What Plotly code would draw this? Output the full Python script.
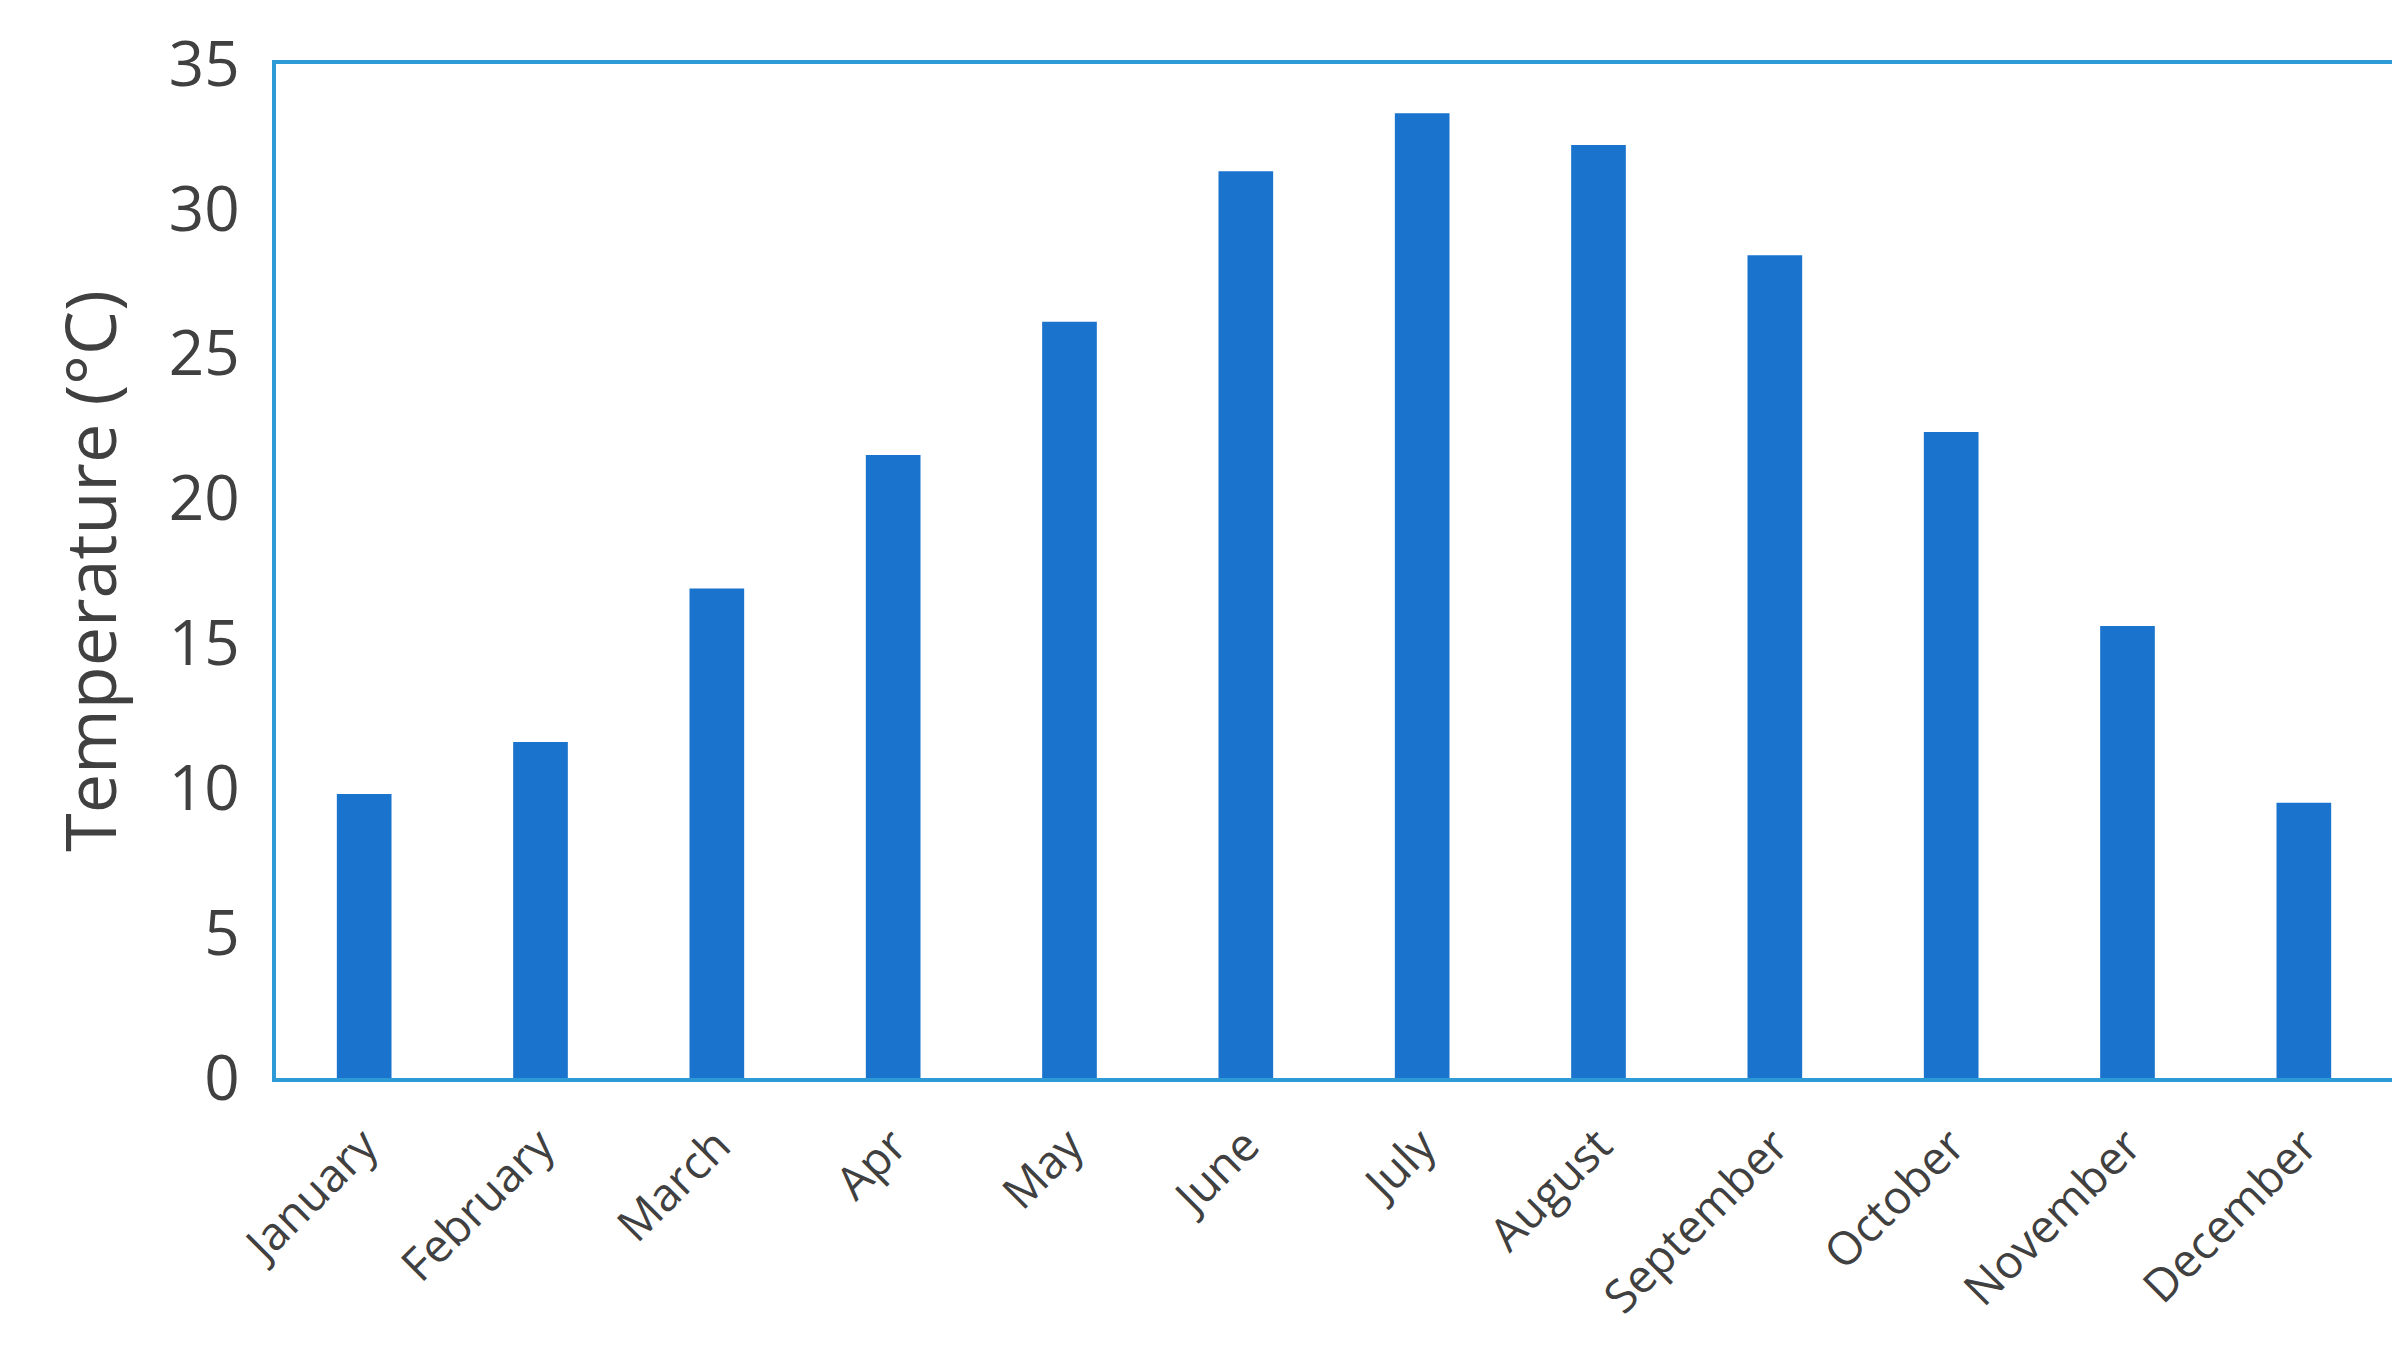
import plotly.graph_objects as go

months = ["January", "February", "March", "Apr", "May", "June", "July",
          "August", "September", "October", "November", "December"]
temps = [9.8, 11.6, 16.9, 21.5, 26.1, 31.3, 33.3, 32.2, 28.4, 22.3, 15.6, 9.5]

fig = go.Figure(go.Bar(x=months, y=temps, marker_color="#1a73cc", marker_line_width=0))

fig.update_layout(
    width=2400, height=1356,
    plot_bgcolor="white", paper_bgcolor="white",
    bargap=0.69, showlegend=False,
    margin=dict(l=268, r=14, t=48, b=286),
    font=dict(family="Open Sans", color="#404040"),
)
fig.update_xaxes(showline=True, linecolor="#2e9bd6", linewidth=4, mirror=True,
                 tickangle=-45, tickfont=dict(size=46), ticks="", ticklabelstandoff=18)
fig.update_yaxes(range=[0, 35], dtick=5, showgrid=False, zeroline=False,
                 showline=True, linecolor="#2e9bd6", linewidth=4, mirror=True,
                 tickfont=dict(size=62), ticks="", ticklabelstandoff=20,
                 title=dict(text="Temperature (°C)", font=dict(size=70), standoff=30))

fig.write_html("out.html")
